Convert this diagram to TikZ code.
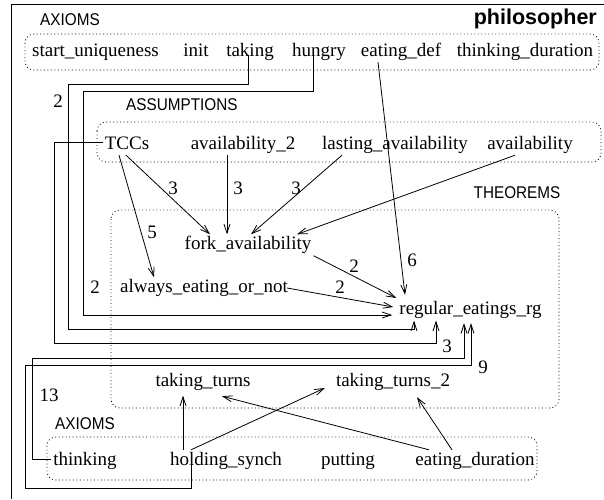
\documentclass[tikz,border=0pt]{standalone}
\usepackage{fontspec}
\setmainfont{Liberation Serif}
\newfontfamily\labfont[FakeStretch=0.9]{Liberation Sans}
\newfontfamily\titlefont{Liberation Sans}
\usetikzlibrary{arrows.meta}
\begin{document}
\begin{tikzpicture}[x=1pt,y=-1pt,
  nd/.style={inner sep=2pt, text height=13pt, text depth=4pt, font=\fontsize{19}{22}\selectfont},
  lab/.style={inner sep=0pt, font=\labfont\fontsize{17}{20}\selectfont},
  num/.style={inner sep=0pt, font=\fontsize{19}{22}\selectfont},
  grp/.style={draw, rounded corners=9pt, dash pattern=on 0.9pt off 2.6pt, line width=0.8pt},
  ln/.style={line width=0.8pt},
  arr/.style={line width=0.8pt, -{Straight Barb[length=9pt,width=6pt,line width=0.8pt]}}]
\useasboundingbox (0,0) rectangle (604,499);
% frame
\draw[ln] (11,499) -- (11,4) -- (604,4);
% labels
\node[lab] (ax1) at (70,20) {AXIOMS};
\node[inner sep=0pt, font=\titlefont\bfseries\fontsize{21.5}{25}\selectfont, anchor=east] (phil) at (597,19) {philosopher};
\node[lab, anchor=west] (asl) at (126,105) {ASSUMPTIONS};
\node[lab] (thl) at (517,193) {THEOREMS};
\node[lab] (ax2) at (85,424) {AXIOMS};
% group boxes
\draw[grp] (25,34) rectangle (599,70);
\draw[grp] (97,122) rectangle (601,162);
\draw[grp] (111,210) rectangle (559,408);
\draw[grp] (47,437) rectangle (537,480);
% top axioms
\node[nd] (su) at (95.5,51.5) {start\_uniqueness};
\node[nd] (init) at (196,51.5) {init};
\node[nd] (taking) at (250,51.5) {taking};
\node[nd] (hungry) at (319,51.5) {hungry};
\node[nd] (edef) at (401,51.5) {eating\_def};
\node[nd] (tdur) at (525,51.5) {thinking\_duration};
% assumptions
\node[nd] (tcc) at (127,144.5) {TCCs};
\node[nd] (av2) at (243,144.5) {availability\_2};
\node[nd] (lav) at (395,144.5) {lasting\_availability};
\node[nd] (av) at (530,144.5) {availability};
% theorems
\node[nd] (fork) at (248,245) {fork\_availability};
\node[nd] (always) at (204,288) {always\_eating\_or\_not};
\node[nd] (reg) at (470.5,310) {regular\_eatings\_rg};
\node[nd] (tt) at (203,382) {taking\_turns};
\node[nd] (tt2) at (393,382) {taking\_turns\_2};
% bottom axioms
\node[nd] (think) at (85,460.5) {thinking};
\node[nd] (hold) at (226,460.5) {holding\_synch};
\node[nd] (put) at (348,460.5) {putting};
\node[nd] (edur) at (475,460.5) {eating\_duration};
% long routed connectors
\draw[arr] ([xshift=-2pt,yshift=-3pt]taking.center) -- (248,84) -- (68,84) -- (68,329) -- (414,329) -- ([xshift=-56.5pt]reg.south);
\draw[arr] ([xshift=-6pt,yshift=-3pt]hungry.center) -- (313,91) -- (83,91) -- (83,315) -- ([xshift=-5pt,yshift=-5pt]reg.west);
\draw[arr] ([yshift=2.5pt]tcc.west) -- (54,142) -- (54,343) -- (436,343) -- ([xshift=-34.5pt]reg.south);
\draw[arr] ([yshift=1.5pt]think.west) -- (32,459) -- (32,358) -- (464,358) -- ([xshift=-6.5pt,yshift=-2.5pt]reg.south);
\draw[arr] ([xshift=-35pt,yshift=6pt]hold.south) -- (191,488) -- (25,488) -- (25,365) -- (471,365) -- ([xshift=0.5pt,yshift=-2.5pt]reg.south);
% straight connectors
\draw[arr] ([xshift=-23pt]edef.south) -- ([xshift=-65.5pt,yshift=4.5pt]reg.north);
\draw[arr] (fork.south east) -- ([xshift=-1pt,yshift=12pt]reg.west);
\draw[arr] ([xshift=-3pt]always.east) -- ([xshift=-4pt,yshift=3pt]reg.west);
\draw[arr] ([xshift=-8pt]tcc.south) -- ([xshift=-50pt]always.north);
\draw[arr] ([xshift=-1pt]tcc.south) -- ([xshift=-38pt]fork.north);
\draw[arr] ([xshift=-16pt]av2.south) -- ([xshift=-21pt]fork.north);
\draw[arr] ([xshift=-53pt]lav.south) -- ([xshift=3pt]fork.north);
\draw[arr] ([xshift=-15pt]av.south) -- ([xshift=49pt]fork.north);
\draw[arr] ([xshift=-43pt]hold.north) -- ([xshift=-20pt,yshift=-3pt]tt.south);
\draw[arr] ([xshift=-35pt]hold.north) -- ([xshift=-9pt,yshift=-6pt]tt2.west);
\draw[arr] ([xshift=-46pt]edur.north) -- ([xshift=19pt,yshift=-3.5pt]tt.south);
\draw[arr] ([xshift=-23pt]edur.north) -- ([xshift=24pt,yshift=-4.5pt]tt2.south);
% edge labels
\node[num] (n1) at (58,101) {2};
\node[num] (n2) at (95,287) {2};
\node[num] (n3) at (152,232) {5};
\node[num] (n4) at (173,188) {3};
\node[num] (n5) at (238,188) {3};
\node[num] (n6) at (296,188) {3};
\node[num] (n7) at (412,260) {6};
\node[num] (n8) at (354,266) {2};
\node[num] (n9) at (340,287) {2};
\node[num] (n10) at (447,346) {3};
\node[num] (n11) at (483,367) {9};
\node[num] (n12) at (49,395) {13};
\end{tikzpicture}
\end{document}
